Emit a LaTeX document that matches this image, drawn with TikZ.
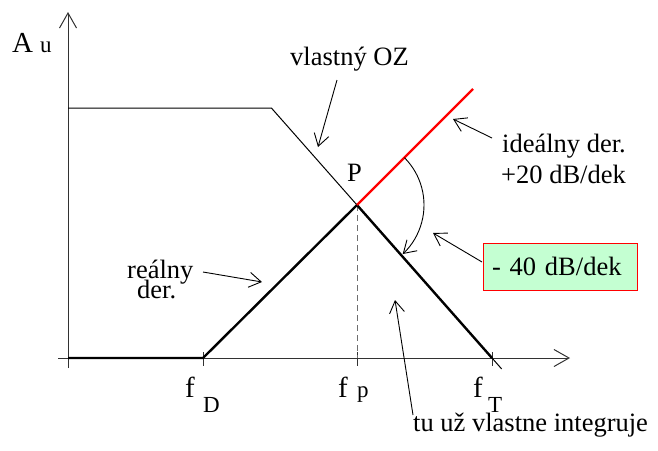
\documentclass[tikz,border=0pt]{standalone}
\usepackage{fontspec}
\setmainfont{Liberation Serif}
\usetikzlibrary{arrows.meta}
\definecolor{axisgray}{RGB}{50,50,50}
\definecolor{mint}{RGB}{196,255,210}
\definecolor{dashgray}{RGB}{110,110,110}
\begin{document}
\begin{tikzpicture}[x=1pt,y=-1pt,
  txt/.style={font=\fontsize{26.5}{28}\selectfont, inner sep=0pt, anchor=base west},
  bigtxt/.style={font=\fontsize{29}{31}\selectfont, inner sep=0pt, anchor=base west},
  subtxt/.style={font=\fontsize{23}{25}\selectfont, inner sep=0pt, anchor=base west},
  axisline/.style={draw=axisgray, line width=1pt},
  axisarrow/.style={axisline, -{Straight Barb[length=15pt,width=17pt,line width=1pt]}},
  ann/.style={line width=0.9pt, -{Straight Barb[length=12pt,width=15pt,line width=0.9pt]}},
  boldcurve/.style={line width=2.4pt, line join=miter},
  thincurve/.style={line width=1pt},
  redcurve/.style={draw=red, line width=2.4pt},
  guide/.style={draw=dashgray, line width=1pt, dash pattern=on 6pt off 4pt},
  boxlabel/.style={draw=red, fill=mint, line width=1pt, font=\fontsize{26.5}{28}\selectfont,
    text width=136pt, align=left, inner xsep=9pt, minimum height=47pt, inner ysep=0pt}
]
\useasboundingbox (0,0) rectangle (658,450);

% key points
\coordinate (O) at (68,358);
\coordinate (ytop) at (68,12);
\coordinate (ybot) at (68,368);
\coordinate (xleft) at (58,358);
\coordinate (xright) at (570,358);
\coordinate (fD) at (203,358);
\coordinate (P) at (357,205);
\coordinate (fT) at (492,358);
\coordinate (fp) at (357,358);
\coordinate (plat0) at (68,108);
\coordinate (knee) at (271.4,108);
\coordinate (ozend) at (501.7,369);
\coordinate (redend) at (473,89);

% axes
\draw[axisarrow] (ybot) -- (ytop);
\draw[axisarrow] (xleft) -- (xright);
\foreach \n in {fD,fp,fT}{
  \draw[axisline] ([yshift=6pt]\n) -- ([yshift=-8pt]\n);
}

% own op-amp characteristic
\draw[thincurve] (plat0) -- (knee) -- (ozend);
% dashed guide
\draw[guide] (P) -- (fp);
% real differentiator
\draw[boldcurve] (O) -- (fD) -- (P) -- (fT);
% ideal differentiator
\draw[redcurve] (P) -- (redend);

% labels
\node[bigtxt] (A) at (12,52) {A};
\node[subtxt] (Au) at (40,52) {u};
\node[bigtxt] (fDf) at (185,397) {f};
\node[subtxt] (fDs) at (203,412) {D};
\node[bigtxt] (fpf) at (338,397) {f};
\node[subtxt] (fps) at (357,397) {p};
\node[bigtxt] (fTf) at (473,397) {f};
\node[subtxt] (fTs) at (488,412) {T};
\node[txt] (Plab) at (347,181) {P};
\node[txt] (oz) at (290,65) {vlastný OZ};
\node[txt] (id1) at (502,152) {ideálny der.};
\node[txt] (id2) at (501,183) {+20 dB/dek};
\node[txt] (re1) at (127,278) {reálny};
\node[txt] (re2) at (137,298) {der.};
\node[txt] (tu) at (413,431) {tu už vlastne integruje};
\node[boxlabel] (b40) at (560,266.5) {- 40 dB/dek};

% annotation arrows
\coordinate (ozS) at (337,80);
\coordinate (ozT) at (318,147);
\draw[ann] (ozS) -- (ozT);
\coordinate (idS) at (492,138);
\coordinate (idT) at (453,119);
\draw[ann] (idS) -- (idT);
\coordinate (bS) at (482,262);
\coordinate (bT) at (433,233);
\draw[ann] (bS) -- (bT);
\coordinate (reS) at (203,272);
\coordinate (reT) at (262,282);
\draw[ann] (reS) -- (reT);
\coordinate (tuS) at (413,415);
\coordinate (tuT) at (395,300);
\draw[ann] (tuS) -- (tuT);
% angle arc
\coordinate (arcS) at ([shift={(45:67pt)}]P);
\draw[ann] (arcS) arc[start angle=45, end angle=-47, radius=67pt];
\end{tikzpicture}
\end{document}
